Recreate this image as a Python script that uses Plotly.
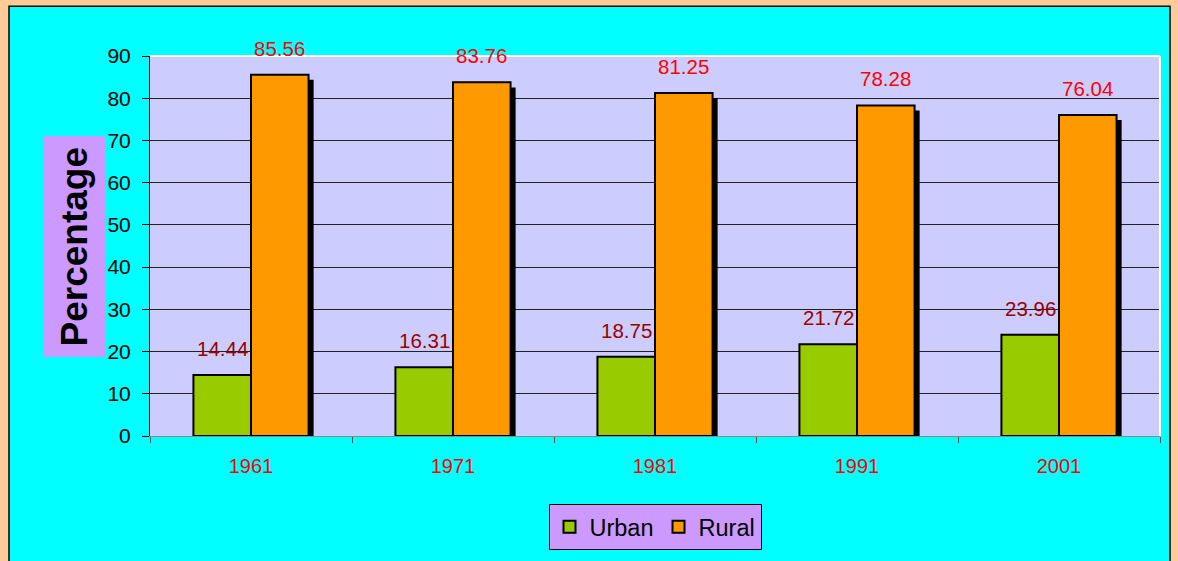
import plotly.graph_objects as go

years = ["1961", "1971", "1981", "1991", "2001"]
urban = [14.44, 16.31, 18.75, 21.72, 23.96]
rural = [85.56, 83.76, 81.25, 78.28, 76.04]
y_ticks = [0, 10, 20, 30, 40, 50, 60, 70, 80, 90]

fig = go.Figure()

# drop shadow behind the rural bars
fig.add_trace(go.Bar(x=years, y=rural, base=-1.2, offset=0.025, width=0.285,
                     marker=dict(color="black", line=dict(width=0)),
                     showlegend=False, hoverinfo="skip"))
fig.add_trace(go.Bar(x=years, y=urban, name="Urban", offset=-0.285, width=0.285,
                     marker=dict(color="#99CC00", line=dict(color="black", width=2))))
fig.add_trace(go.Bar(x=years, y=rural, name="Rural", offset=0, width=0.285,
                     marker=dict(color="#FF9900", line=dict(color="black", width=2))))

# value labels; x given as category index (numeric-looking years would be read as indices)
ann = []
for i, (u, r) in enumerate(zip(urban, rural)):
    ann.append(dict(x=i - 0.1425, y=u, text=f"{u:.2f}", yshift=13, yanchor="bottom",
                    showarrow=False, font=dict(color="#990000", size=20.5)))
    ann.append(dict(x=i + 0.1425, y=r, text=f"{r:.2f}", yshift=13, yanchor="bottom",
                    showarrow=False, font=dict(color="#FF0000", size=20.5)))
ann.append(dict(xref="paper", yref="paper", x=-0.0748, y=0.5, xanchor="center", yanchor="middle",
                text="<b>Percentage</b>", textangle=-90, showarrow=False,
                bgcolor="#CC99FF", borderpad=10, font=dict(size=37, color="black")))

peach = "#FFCC99"
fig.update_layout(
    width=1178, height=561,
    margin=dict(l=150, r=18, t=56, b=124),
    paper_bgcolor="#00FFFF",
    plot_bgcolor="#CCCCFF",
    barmode="overlay",
    font=dict(family="Liberation Sans, Arial", color="black"),
    annotations=ann,
    shapes=[
        # peach frame around the chart
        dict(type="rect", xref="paper", yref="paper", x0=-0.16, x1=-0.1396, y0=-0.4, y1=1.2,
             fillcolor=peach, line=dict(width=0)),
        dict(type="rect", xref="paper", yref="paper", x0=-0.16, x1=1.03, y0=1.1312, y1=1.2,
             fillcolor=peach, line=dict(width=0)),
        dict(type="rect", xref="paper", yref="paper", x0=1.0099, x1=1.03, y0=-0.4, y1=1.2,
             fillcolor=peach, line=dict(width=0)),
        dict(type="rect", xref="paper", yref="paper", x0=-0.1396, x1=1.0099, y0=-0.4, y1=1.1312,
             line=dict(color="black", width=1.5)),
        dict(type="line", xref="paper", yref="paper", x0=0, x1=1, y0=1, y1=1,
             line=dict(color="white", width=2)),
        dict(type="line", xref="paper", yref="paper", x0=1, x1=1, y0=0, y1=1,
             line=dict(color="white", width=2)),
    ],
    legend=dict(orientation="h", x=0.5, xanchor="center", y=-0.236, yanchor="middle",
                bgcolor="#CC99FF", bordercolor="black", borderwidth=1,
                font=dict(size=23.5, color="black"), traceorder="normal",
                itemwidth=30, tracegroupgap=0),
    xaxis=dict(type="category", range=[-0.5, 4.5], showgrid=False, showline=True,
               linecolor="#888888", linewidth=1,
               ticks="outside", tickson="boundaries", ticklen=6, tickcolor="#555555",
               tickfont=dict(size=20, color="#FF0000"), ticklabelstandoff=12),
    yaxis=dict(range=[0, 90], tickvals=y_ticks, showgrid=True, gridcolor="#222222",
               gridwidth=1, zeroline=False, showline=True, linecolor="black", linewidth=1,
               ticks="outside", ticklen=7, tickcolor="black",
               tickfont=dict(size=21, color="black"), ticklabelstandoff=7),
)

# drop the page's default body margin so the figure sits at the window corner
fig.write_html("out.html", config={"displayModeBar": False},
               post_script="document.body.style.margin='0';")
